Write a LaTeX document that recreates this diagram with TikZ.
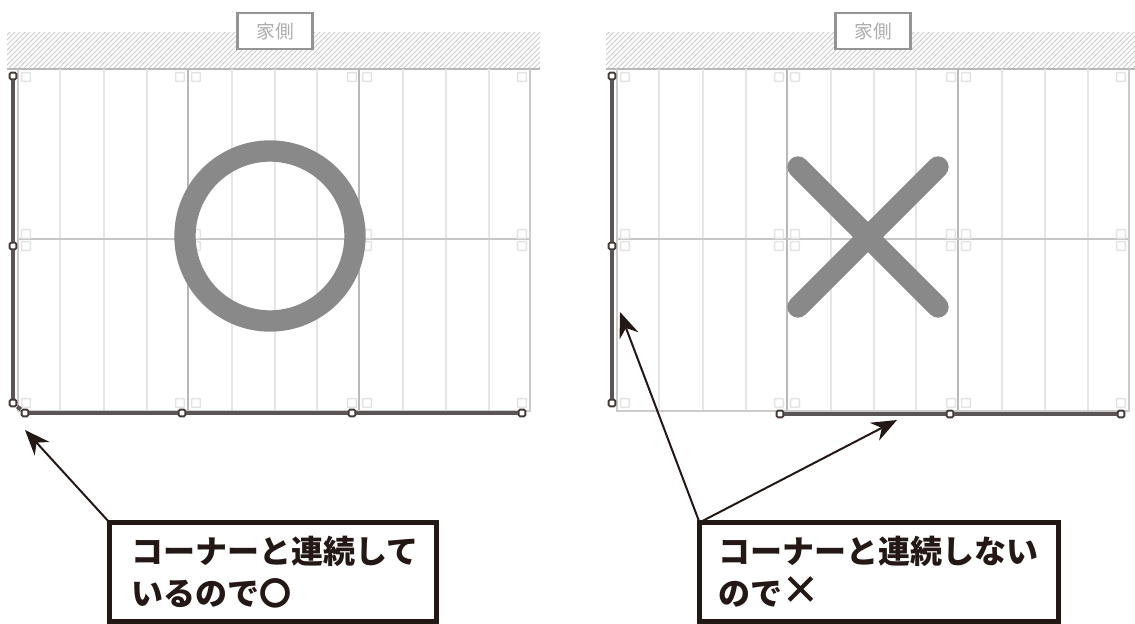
\documentclass[tikz,border=0pt]{standalone}
\usepackage{fontspec}
\setmainfont{Noto Sans CJK JP}
\newfontfamily\symfont{DejaVu Sans}
\usetikzlibrary{arrows.meta,positioning}

\definecolor{inkdark}{HTML}{231815}
\definecolor{walldark}{HTML}{5A5554}
\definecolor{markgray}{HTML}{898989}

\tikzset{
  handle/.style={rectangle, rounded corners=1pt, draw=inkdark!85, fill=white, line width=1.4pt, minimum size=5pt, inner sep=0pt},
  tab/.style={rectangle, rounded corners=0.5pt, draw=black!11, fill=white, line width=1.1pt, minimum size=6.5pt, inner sep=0pt},
  wall/.style={draw=walldark, line width=3pt},
  sideboard/.style={rectangle, draw=black!42, fill=white, line width=2pt, minimum width=56pt, minimum height=27pt, inner sep=0pt, text=black!32, font=\fontsize{14}{16}\selectfont},
  callout/.style={rectangle, draw=inkdark, fill=white, line width=4pt, inner sep=0pt, outer sep=0pt, minimum height=74pt},
  callouttext/.style={inner sep=0pt, text=inkdark, font=\fontsize{24}{31.5}\selectfont\bfseries, align=left},
  pointer/.style={draw=inkdark, line width=1.5pt, -{Stealth[length=19pt,width=15pt]}},
}

% one room: hatched band, then the boards
\newcommand{\roomplan}{
  \begin{scope}
    \clip (-11,33) rectangle (522,69);
    \foreach \h in {0,5,...,600}
      \draw[black!20, line width=0.6pt] (-50+\h,69) -- (-10+\h,29);
  \end{scope}
  \draw[black!28, line width=1.2pt] (-11,69) -- (522,69);
  \foreach \v in {42,86,129,214,257,299,385,428,471}
    \draw[black!10, line width=1.2pt] (\v,69) -- (\v,411);
  \foreach \v in {170,341}
    \draw[black!28, line width=1.2pt] (\v,69) -- (\v,411);
  \draw[black!22, line width=1.2pt] (0,239) -- (512,239);
  \draw[black!20, line width=1.3pt] (0,69) -- (0,411) -- (512,411) -- (512,69);
  \foreach \a/\b in {8/77,162/77,178/77,334/77,349/77,504/77,
                     8/234,162/234,178/234,334/234,349/234,504/234,
                     8/246,162/246,178/246,334/246,349/246,504/246,
                     8/403,162/403,178/403,334/403,349/403,504/403}
    \node[tab] at (\a,\b) {};
}

\begin{document}
\begin{tikzpicture}[x=0.75pt,y=-0.75pt]
\useasboundingbox (0,0) rectangle (1135,624);

\begin{scope}[xshift=13.5pt]
\roomplan
\end{scope}
\begin{scope}[xshift=462.75pt]
\roomplan
\end{scope}

\node[sideboard] (sideA) at (275,31) {家側};
\node[sideboard] (sideB) at (873,31) {家側};

% circle and cross
\node[circle, draw=markgray, line width=16pt, minimum size=127.5pt, inner sep=0pt] (okmark) at (270,236) {};
\coordinate (crossA) at (798,167);
\coordinate (crossB) at (938,307);
\coordinate (crossC) at (938,167);
\coordinate (crossD) at (798,307);
\draw[markgray, line width=16pt, line cap=round] (crossA) -- (crossB);
\draw[markgray, line width=16pt, line cap=round] (crossC) -- (crossD);

% walls, left room
\node[handle] (a1) at (13,76) {};
\node[handle] (a2) at (13,246) {};
\node[handle] (a3) at (13,403) {};
\node[handle] (a4) at (25,413) {};
\node[handle] (a5) at (182,413) {};
\node[handle] (a6) at (352,413) {};
\node[handle] (a7) at (522,413) {};
\draw[wall] (a1) -- (a2);
\draw[wall] (a2) -- (a3);
\draw[wall] (a3) -- (a4);
\draw[wall] (a4) -- (a5);
\draw[wall] (a5) -- (a6);
\draw[wall] (a6) -- (a7);

% walls, right room
\node[handle] (b1) at (612,76) {};
\node[handle] (b2) at (612,246) {};
\node[handle] (b3) at (612,403) {};
\node[handle] (b4) at (780,414) {};
\node[handle] (b5) at (950,414) {};
\node[handle] (b6) at (1121,414) {};
\draw[wall] (b1) -- (b2);
\draw[wall] (b2) -- (b3);
\draw[wall] (b4) -- (b5);
\draw[wall] (b5) -- (b6);

% callouts
\node[callout, minimum width=245pt, anchor=north west] (noteok) at (109.5,522.5) {};
\node[callouttext, right=16.5pt of noteok.west] (textok) {コーナーと連続して\\いるので〇};
\node[callout, minimum width=269pt, anchor=north west] (noteng) at (699.5,522.5) {};
\node[callouttext, right=14pt of noteng.west] (textng) {コーナーと連続しない\\ので{\symfont\bfseries\fontsize{33}{31.5}\selectfont ✕}};

\coordinate (tipok) at (25,430);
\coordinate (tipngA) at (620,312);
\coordinate (tipngB) at (897,420);
\draw[pointer] (noteok.north west) -- (tipok);
\draw[pointer] (noteng.north west) -- (tipngA);
\draw[pointer] (noteng.north west) -- (tipngB);
\end{tikzpicture}
\end{document}
